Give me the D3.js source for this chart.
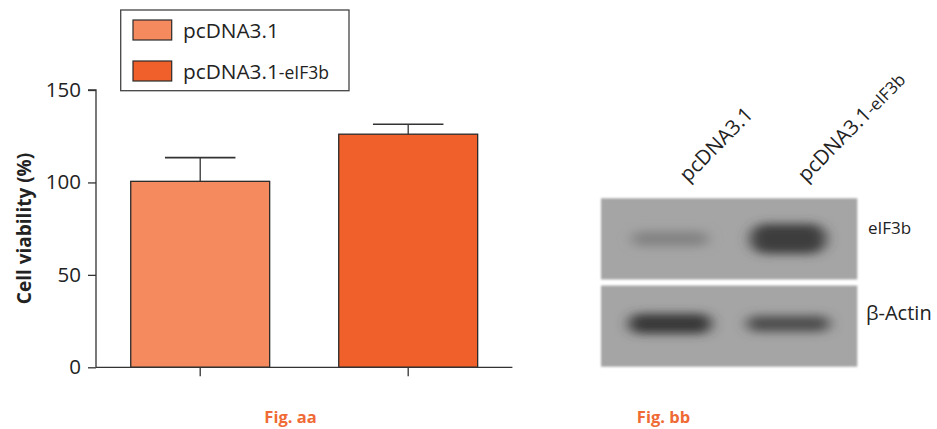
<!DOCTYPE html>
<html>
<head>
<meta charset="utf-8">
<script src="https://cdn.jsdelivr.net/npm/d3@7"></script>
<style>
  html, body { margin: 0; padding: 0; background: #fff; }
  svg { display: block; font-family: "Open Sans", "DejaVu Sans", sans-serif; }
</style>
</head>
<body>
<svg id="chart" width="937" height="429"></svg>
<script>
// ---------- data ----------
const categories = ["pcDNA3.1", "pcDNA3.1-eIF3b"];
const viability = [100.6, 126.1];
const viabilityErr = [12.8, 5.4];
const yTicks = [0, 50, 100, 150];
const legendMain = ["pcDNA3.1", "pcDNA3.1"];
const legendSuffix = ["", "-eIF3b"];
const lanes = ["pcDNA3.1", "pcDNA3.1-eIF3b"];
const laneMain = ["pcDNA3.1", "pcDNA3.1"];
const laneSuffix = ["", "-eIF3b"];
const blotRows = ["eIF3b", "β-Actin"];
const eif3bBands = [0.3, 0.95];
const actinBands = [1.0, 0.8];
const captions = ["Fig. aa", "Fig. bb"];

// ---------- setup ----------
const svg = d3.select("#chart");
const barColors = ["#f58a5e", "#f0602a"];
const axisColor = "#333";

const y = d3.scaleLinear().domain([0, 150]).range([367.3, 90]);
const x = d3.scaleBand().domain(categories).range([96, 512.4])
  .paddingInner(0.332).paddingOuter(0.167);

// bars
const g = svg.append("g");
g.selectAll("rect.bar").data(categories).join("rect")
  .attr("class", "bar")
  .attr("x", d => x(d))
  .attr("width", x.bandwidth())
  .attr("y", (d, i) => y(viability[i]))
  .attr("height", (d, i) => y(0) - y(viability[i]))
  .attr("fill", (d, i) => barColors[i])
  .attr("stroke", "#2a2a2a")
  .attr("stroke-width", 1.3);

// error bars (upper only)
const capW = 70.5;
categories.forEach((c, i) => {
  const cx = x(c) + x.bandwidth() / 2;
  g.append("line").attr("x1", cx).attr("x2", cx)
    .attr("y1", y(viability[i])).attr("y2", y(viability[i] + viabilityErr[i]))
    .attr("stroke", axisColor).attr("stroke-width", 1.3);
  g.append("line").attr("x1", cx - capW / 2).attr("x2", cx + capW / 2)
    .attr("y1", y(viability[i] + viabilityErr[i])).attr("y2", y(viability[i] + viabilityErr[i]))
    .attr("stroke", axisColor).attr("stroke-width", 1.6);
});

// y axis
const yAxis = d3.axisLeft(y).tickValues(yTicks).tickSize(8).tickPadding(7).tickFormat(d3.format("d"));
const yg = svg.append("g").attr("transform", "translate(96,0)").call(yAxis);
yg.select(".domain").attr("stroke", axisColor).attr("stroke-width", 1.3).attr("d", `M-8,${y(150)}H0V${y(0)}`);
yg.selectAll(".tick line").attr("stroke", axisColor).attr("stroke-width", 1.3);
yg.selectAll(".tick text").attr("font-size", 20.5).attr("fill", "#222")
  .attr("font-family", "'Open Sans', sans-serif");

// x axis
const xAxis = d3.axisBottom(x).tickSize(9).tickFormat("");
const xg = svg.append("g").attr("transform", `translate(0,${y(0)})`).call(xAxis);
xg.select(".domain").attr("stroke", axisColor).attr("stroke-width", 1.3).attr("d", `M96,0H512.4`);
xg.selectAll(".tick line").attr("stroke", axisColor).attr("stroke-width", 1.3);

// y axis label
svg.append("text")
  .attr("transform", `translate(31,228.5) rotate(-90)`)
  .attr("text-anchor", "middle")
  .attr("font-size", 19).attr("font-weight", "bold").attr("fill", "#222")
  .text("Cell viability (%)");

// legend
const lg = svg.append("g");
lg.append("rect").attr("x", 120.7).attr("y", 10).attr("width", 228.3).attr("height", 80.7)
  .attr("fill", "#fff").attr("stroke", "#444").attr("stroke-width", 1.3);
legendMain.forEach((t, i) => {
  const yy = 20 + i * 41;
  lg.append("rect").attr("x", 133).attr("y", yy).attr("width", 38.7).attr("height", 20)
    .attr("fill", barColors[i]).attr("stroke", "#2a2a2a").attr("stroke-width", 1.2);
  const tx = lg.append("text").attr("x", 183).attr("y", yy + 18)
    .attr("font-size", 20.8).attr("fill", "#222");
  tx.append("tspan").text(t);
  if (legendSuffix[i]) tx.append("tspan").attr("font-size", 17.5).text(legendSuffix[i]);
});

// ---------- western blot ----------
const defs = svg.append("defs");
defs.append("filter").attr("id", "bandBlur").attr("filterUnits", "userSpaceOnUse")
  .attr("x", 580).attr("y", 180).attr("width", 300).attr("height", 200)
  .append("feGaussianBlur").attr("stdDeviation", "7 5");
defs.append("filter").attr("id", "edgeBlur")
  .append("feGaussianBlur").attr("stdDeviation", 0.8);

const lane = d3.scaleBand().domain(lanes).range([601, 857.3]).paddingInner(0.3).paddingOuter(0.235);
const rowY = d3.scaleBand().domain(blotRows).range([198.3, 366.7]).paddingInner(0.07);
const shade = d3.scaleLinear().domain([0, 1]).range(["#a3a3a3", "#383838"]);
const rowBands = [eif3bBands, actinBands];
const rowThick = [[15, 30], [20, 16]];

const bg = svg.append("g");
blotRows.forEach((r, ri) => {
  const top = rowY(r);
  bg.append("rect").attr("x", 601).attr("y", top).attr("width", 256.3).attr("height", rowY.bandwidth())
    .attr("fill", "#a5a5a5").attr("filter", "url(#edgeBlur)");
  const cy = top + rowY.bandwidth() * (ri === 0 ? 0.5 : 0.47);
  lanes.forEach((l, li) => {
    const v = rowBands[ri][li];
    const cx = lane(l) + lane.bandwidth() / 2;
    const w = lane.bandwidth() * (ri === 0 ? 0.92 : 1.0);
    const h = rowThick[ri][li];
    bg.append("rect")
      .attr("x", cx - w / 2).attr("y", cy - h / 2)
      .attr("width", w).attr("height", h)
      .attr("rx", h / 2).attr("ry", h / 2)
      .attr("fill", shade(v)).attr("filter", "url(#bandBlur)");
  });
});

// row labels
svg.append("text").attr("x", 868).attr("y", 234).attr("font-size", 17).attr("fill", "#222").text(blotRows[0]);
svg.append("text").attr("x", 866).attr("y", 320).attr("font-size", 20).attr("fill", "#222").text(blotRows[1]);

// lane labels (rotated)
lanes.forEach((l, i) => {
  const cx = lane(l) + lane.bandwidth() / 2;
  const t = svg.append("text")
    .attr("transform", `translate(${cx + 18},183) rotate(-45.5)`)
    .attr("font-size", 20.5).attr("fill", "#222");
  t.append("tspan").text(laneMain[i]);
  if (laneSuffix[i]) t.append("tspan").attr("font-size", 17).text(laneSuffix[i]);
});

// captions
const capX = [290.5, 663.5];
captions.forEach((c, i) => {
  svg.append("text").attr("x", capX[i]).attr("y", 423)
    .attr("text-anchor", "middle").attr("font-size", 16.5).attr("font-weight", "bold")
    .attr("fill", "#ef6a35").text(c);
});
</script>
</body>
</html>
